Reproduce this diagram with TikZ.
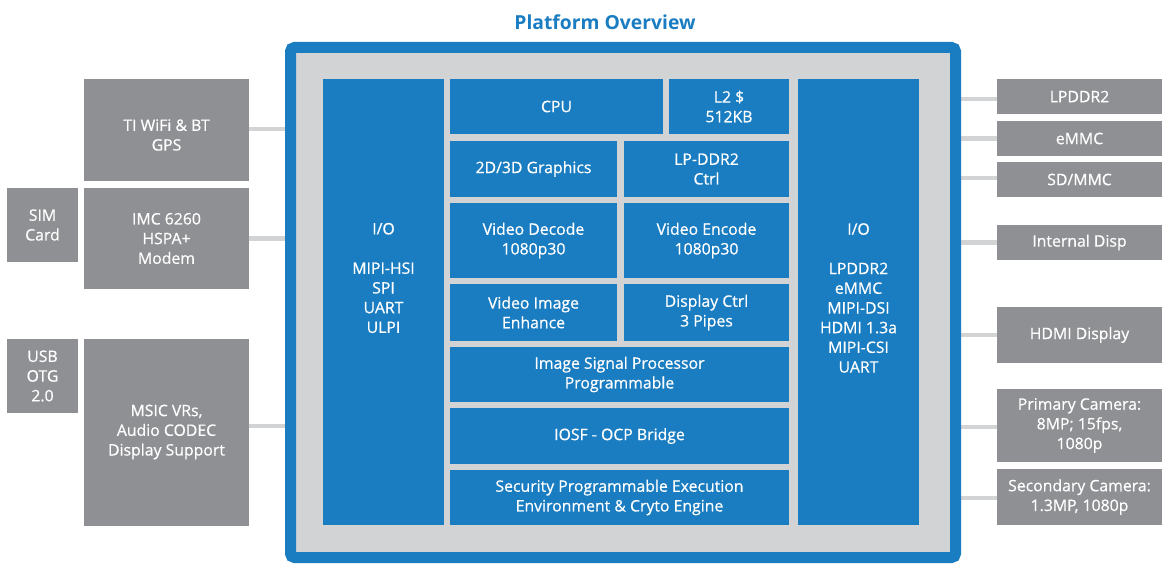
\documentclass[tikz,border=0pt]{standalone}
\usepackage{fontspec}
\setmainfont[FakeBold=0.6]{Open Sans}
\newfontfamily\titlefont{Open Sans}
\usetikzlibrary{backgrounds}
\definecolor{iblue}{HTML}{1A7CC1}
\definecolor{igray}{HTML}{8F9094}
\definecolor{ilight}{HTML}{D2D3D5}
\tikzset{
  blk/.style={fill=iblue, draw=none, inner sep=0pt, text=white, align=center,
    font=\fontsize{15.8}{19.7}\selectfont},
  gbox/.style={fill=igray, draw=none, inner sep=0pt, text=white, align=center,
    font=\fontsize{15.8}{19.7}\selectfont},
  txt/.style={text=white, align=center, inner sep=0pt,
    font=\fontsize{15.8}{19.7}\selectfont},
  conn/.style={draw=ilight, line width=4.5pt},
}
\begin{document}
\begin{tikzpicture}[x=1pt,y=-1pt]
\useasboundingbox (0,0) rectangle (1169,567);
% title
\node[text=iblue, font=\titlefont\fontsize{19.3}{22}\bfseries\selectfont, inner sep=0pt] (title) at (605,22) {Platform Overview};
% frame
\node[draw=iblue, line width=11pt, fill=ilight, rounded corners=4pt, minimum width=665pt, minimum height=510pt, inner sep=0pt] (frame) at (623,302.5) {};
% inner blocks
\node[blk, minimum width=121pt, minimum height=446pt] (ioL) at (383.5,302) {};
\node[txt] (ioLt) at (383.5,278) {I/O\\[19.7pt]MIPI-HSI\\SPI\\UART\\ULPI};
\node[blk, minimum width=121pt, minimum height=446pt] (ioR) at (858.5,302) {};
\node[txt] (ioRt) at (858.5,298) {I/O\\[19.7pt]LPDDR2\\eMMC\\MIPI-DSI\\HDMI 1.3a\\MIPI-CSI\\UART};
\node[blk, minimum width=213pt, minimum height=55pt] (cpu) at (556.5,106.5) {CPU};
\node[blk, minimum width=120pt, minimum height=55pt] (l2) at (729,106.5) {L2 \$\\512KB};
\node[blk, minimum width=167pt, minimum height=56pt] (gfx) at (533.5,169) {2D/3D Graphics};
\node[blk, minimum width=165pt, minimum height=56pt] (lpc) at (706.5,169) {LP-DDR2\\Ctrl};
\node[blk, minimum width=167pt, minimum height=75pt] (vdec) at (533.5,240.5) {Video Decode\\1080p30};
\node[blk, minimum width=165pt, minimum height=75pt] (venc) at (706.5,240.5) {Video Encode\\1080p30};
\node[blk, minimum width=167pt, minimum height=57pt] (vie) at (533.5,312.5) {Video Image\\Enhance};
\node[blk, minimum width=165pt, minimum height=57pt] (dctl) at (706.5,312.5) {Display Ctrl\\3 Pipes};
\node[blk, minimum width=339pt, minimum height=55pt] (isp) at (619.5,374.5) {Image Signal Processor\\Programmable};
\node[blk, minimum width=339pt, minimum height=56pt] (iosf) at (619.5,436) {IOSF - OCP Bridge};
\node[blk, minimum width=339pt, minimum height=55pt] (sec) at (619.5,497.5) {Security Programmable Execution\\Environment \& Cryto Engine};
% left boxes
\node[gbox, minimum width=165pt, minimum height=102pt] (wifi) at (166.5,130) {};
\node[txt] (wifit) at (166.5,135) {TI WiFi \& BT\\GPS};
\node[gbox, minimum width=71pt, minimum height=74pt] (sim) at (42.5,225) {SIM\\Card};
\node[gbox, minimum width=165pt, minimum height=101pt] (imc) at (166.5,238.5) {IMC 6260\\HSPA+\\Modem};
\node[gbox, minimum width=71pt, minimum height=74pt] (usb) at (42.5,376) {USB\\OTG\\2.0};
\node[gbox, minimum width=165pt, minimum height=187pt] (msic) at (166.5,432.5) {};
\node[txt] (msict) at (166.5,432) {MSIC VRs,\\Audio CODEC\\Display Support};
% right boxes
\node[gbox, minimum width=165pt, minimum height=35pt] (lpddr) at (1079.5,96.5) {LPDDR2};
\node[gbox, minimum width=165pt, minimum height=35pt] (emmc) at (1079.5,138.5) {eMMC};
\node[gbox, minimum width=165pt, minimum height=35pt] (sd) at (1079.5,179.5) {SD/MMC};
\node[gbox, minimum width=165pt, minimum height=35pt] (idisp) at (1079.5,242.5) {Internal Disp};
\node[gbox, minimum width=165pt, minimum height=56pt] (hdmi) at (1079.5,335) {HDMI Display};
\node[gbox, minimum width=165pt, minimum height=73pt] (pcam) at (1079.5,425.5) {Primary Camera:\\8MP; 15fps,\\1080p};
\node[gbox, minimum width=165pt, minimum height=56pt] (scam) at (1079.5,497) {Secondary Camera:\\1.3MP, 1080p};
% connectors
\begin{scope}[on background layer]
\draw[conn] ([yshift=1pt]wifi.east) -- ([yshift=1pt]wifi.east -| frame.west);
\draw[conn] (imc.east) -- (imc.east -| frame.west);
\draw[conn] ([yshift=6.5pt]msic.east) -- ([yshift=6.5pt]msic.east -| frame.west);
\draw[conn] ([yshift=-2.5pt]lpddr.west) -- ([yshift=-2.5pt]lpddr.west -| frame.east);
\draw[conn] (emmc.west) -- (emmc.west -| frame.east);
\draw[conn] ([yshift=1.5pt]sd.west) -- ([yshift=1.5pt]sd.west -| frame.east);
\draw[conn] (idisp.west) -- (idisp.west -| frame.east);
\draw[conn] (hdmi.west) -- (hdmi.west -| frame.east);
\draw[conn] ([yshift=-1.5pt]pcam.west) -- ([yshift=-1.5pt]pcam.west -| frame.east);
\draw[conn] ([yshift=-1pt]scam.west) -- ([yshift=-1pt]scam.west -| frame.east);
\end{scope}
\end{tikzpicture}
\end{document}
